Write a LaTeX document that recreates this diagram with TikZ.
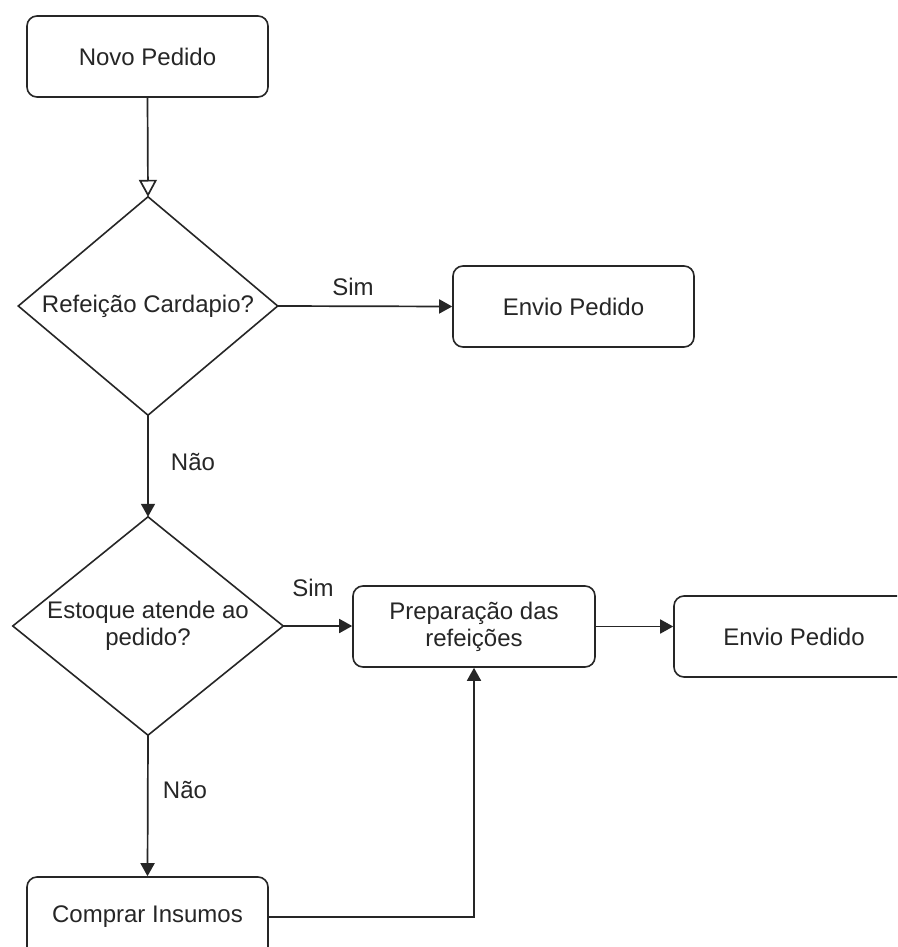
\documentclass[tikz,border=0pt]{standalone}
\usepackage{fontspec}
\setmainfont{Liberation Sans}
\usetikzlibrary{arrows.meta}
\begin{document}
\begin{tikzpicture}[x=1pt,y=1pt,
  box/.style={draw=black!85, line width=1.6pt, rounded corners=10pt, align=center, inner sep=0pt, text=black!85},
  dec/.style={shape=rectangle, inner sep=0pt, align=center, text=black!85},
  decline/.style={draw=black!85, line width=1.6pt, line join=miter},
  conn/.style={draw=black!85, line width=1.7pt, -{Triangle[length=13pt,width=14pt]}},
  openconn/.style={draw=black!85, line width=1.7pt, -{Triangle[open,length=17pt,width=18pt]}},
  lbl/.style={text=black!85, inner sep=0pt},
  font=\fontsize{24}{27}\selectfont]
\useasboundingbox (0,0) rectangle (897,-947);
\fill[white] (0,0) rectangle (897,-947);
\clip (0,0) rectangle (897,-947);
\node[box, minimum width=241pt, minimum height=81pt] (novo) at (147.5,-56.5) {Novo Pedido};
\node[dec, minimum width=259pt, minimum height=218pt] (d1) at (148,-306) {Refeição Cardapio?};
\draw[decline] (d1.north) -- (d1.east) -- (d1.south) -- (d1.west) -- cycle;
\node[box, minimum width=241pt, minimum height=81pt] (env1) at (573.5,-306.5) {Envio Pedido};
\node[dec, minimum width=270pt, minimum height=218pt] (d2) at (148,-626) {Estoque atende ao\\pedido?};
\draw[decline] (d2.north) -- (d2.east) -- (d2.south) -- (d2.west) -- cycle;
\node[box, minimum width=242pt, minimum height=81pt] (prep) at (474,-626.5) {Preparação das\\refeições};
\node[box, minimum width=240pt, minimum height=81pt] (env2) at (794,-636.5) {Envio Pedido};
\node[box, minimum width=241pt, minimum height=80pt] (comp) at (147.5,-917) {Comprar Insumos};
\node[lbl] (s1) at (353,-287) {Sim};
\node[lbl] (n1) at (193,-462) {Não};
\node[lbl] (s2) at (313,-588) {Sim};
\node[lbl] (n2) at (185,-790) {Não};
\draw[openconn] (novo.south) -- (d1.north);
\draw[conn] (d1.east) -- (env1.west);
\draw[conn] (d1.south) -- (d2.north);
\draw[conn] (d2.east) -- (d2.east -| prep.west);
\draw[conn] (prep.east) -- (prep.east -| env2.west);
\draw[conn] (d2.south) -- (comp.north);
\draw[conn] (comp.east) -- (comp.east -| prep.south) -- (prep.south);
\end{tikzpicture}
\end{document}
